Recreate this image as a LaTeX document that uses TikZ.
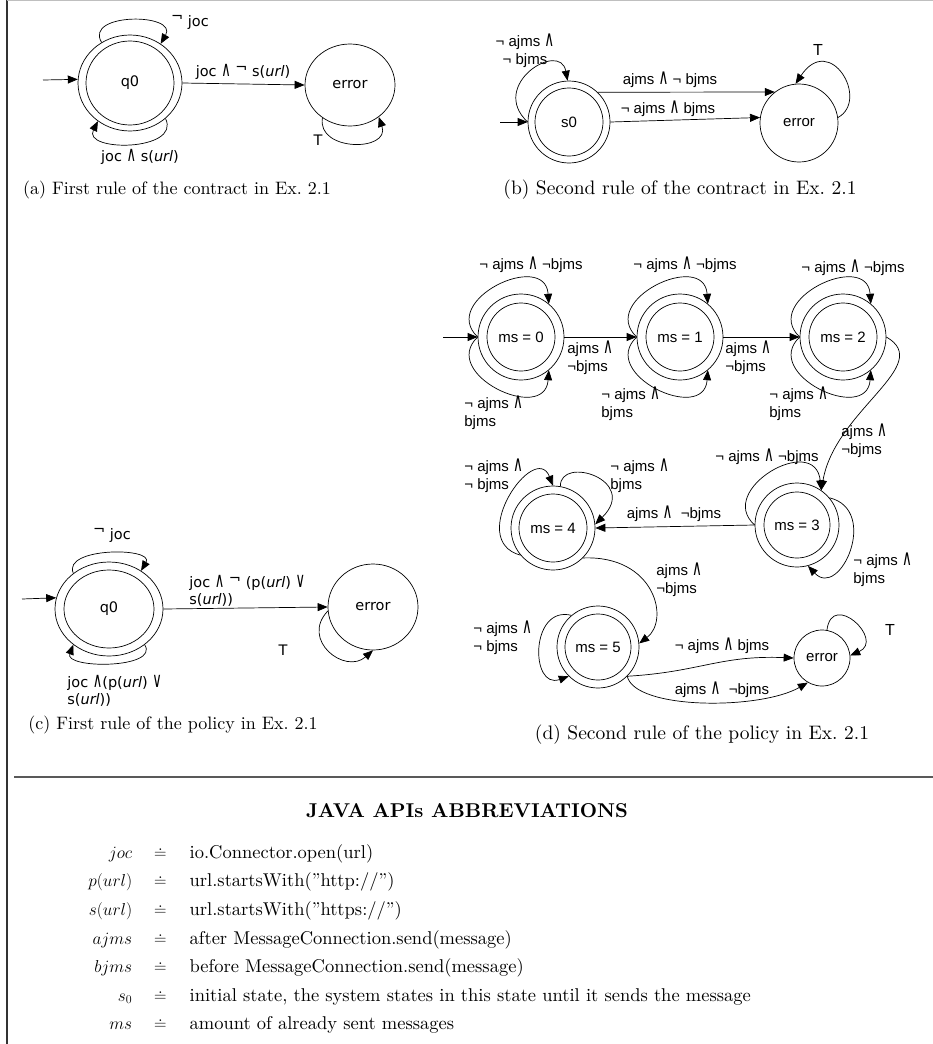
\documentclass[tikz,border=0pt]{standalone}
\usepackage{fontspec}
\usetikzlibrary{arrows.meta,shapes.geometric}
\setmainfont{lmroman10-regular.otf}[BoldFont=lmroman10-bold.otf, ItalicFont=lmroman10-italic.otf]
\newfontfamily\vera{DejaVu Sans}
\newfontfamily\arial{Liberation Sans}
\newcommand{\lnd}{\scalebox{0.9}[1.45]{\vera ∧}}
\newcommand{\lorr}{\scalebox{0.9}[1.45]{\vera ∨}}
\newcommand{\nt}{\raisebox{0.3em}{¬}}
\begin{document}
\begin{tikzpicture}[x=1pt, y=-1pt, line width=0.7pt,
  st/.style={ellipse, draw, inner sep=0pt},
  stc/.style={circle, draw, inner sep=0pt, minimum size=#1},
  arr/.style={-{Triangle[length=10pt,width=8pt]}},
  la/.style={font=\vera\fontsize{14.5}{17}\selectfont, align=left, inner sep=1pt},
  lb/.style={font=\arial\fontsize{15}{17.5}\selectfont, align=left, inner sep=1pt},
  captxt/.style={font=\fontsize{#1}{22}\selectfont},
  captxt/.default=18]
\useasboundingbox (0,0) rectangle (933,1044);
% frame
\draw[line width=2pt, black!80] (7,0) -- (7,1044);
\draw[line width=1pt, black!25] (7,0.5) -- (933,0.5);
\draw[line width=2pt, black!65] (14,777) -- (933,777);
% (a)
\node[st, minimum width=104pt, minimum height=96pt, la] (q0a) at (130,83) {q0};
\draw (q0a.center) ellipse (44pt and 42pt);
\node[st, minimum width=90pt, minimum height=82pt, la] (erra) at (350,85) {error};
\coordinate (ia) at (43,80);
\draw[arr] (ia) -- (q0a.176);
\draw[arr] (q0a.east) -- (erra.west);
\draw[arr] (q0a.125) .. controls +(-18,-30) and +(18,-31) .. (q0a.52);
\draw[arr] (q0a.-45) .. controls +(16,33) and +(-16,31) .. (q0a.-130);
\draw[arr] (erra.-130) .. controls +(-6,34) and +(12,35) .. (erra.-48);
\node[la] (ta1) at (243,72) {joc \lnd\ \nt\ s(\textit{url})};
\node[la] (ta2) at (190,22) {\nt\ joc};
\node[la] (ta3) at (140,157) {joc \lnd\ s(\textit{url})};
\node[la] (ta4) at (318,140) {T};
\node[captxt] (capa) at (177,190) {(a) First rule of the contract in Ex.~2.1};
% (b)
\node[stc=82pt, lb] (s0) at (569,122) {s0};
\draw (s0.center) circle (34pt);
\node[stc=78pt, lb] (errb) at (799,123) {error};
\coordinate (ib) at (500,122);
\draw[arr] (ib) -- (s0.west);
\draw[arr] (s0.46) -- (errb.128);
\draw[arr] (s0.east) -- (errb.172);
\draw[arr] (s0.west) .. controls (488,85) and (560,40) .. (s0.92);
\draw[arr] (errb.8) .. controls (870,100) and (830,32) .. (errb.95);
\node[lb] (tb1) at (670,80) {ajms \lnd\ ¬ bjms};
\node[lb] (tb2) at (668,109) {¬ ajms \lnd\ bjms};
\node[lb, align=center] (tb3) at (525,51) {¬ ajms \lnd\\ ¬ bjms};
\node[lb, font=\arial\fontsize{16}{18}\selectfont] (tb4) at (818,50) {T};
\node[captxt=19.5] (capb) at (680,190) {(b) Second rule of the contract in Ex.~2.1};
% (c)
\node[st, minimum width=108pt, minimum height=94pt, la] (q0c) at (109,609) {q0};
\draw (q0c.center) ellipse (45pt and 39pt);
\node[st, minimum width=90pt, minimum height=86pt, la] (errc) at (373,607) {error};
\coordinate (ic) at (22,599);
\draw[arr] (ic) -- (q0c.168);
\draw[arr] (q0c.east) -- (errc.west);
\draw[arr] (q0c.135) .. controls (62,547) and (155,547) .. (q0c.50);
\draw[arr] (q0c.-45) .. controls (160,669) and (64,669) .. (q0c.-135);
\draw[arr] (errc.185) .. controls (300,640) and (345,675) .. (errc.-90);
\node[la, anchor=west] (tc1) at (188,591) {joc \lnd\ \nt\ (p(\textit{url}) \lorr\\s(\textit{url}))};
\node[la] (tc2) at (112,535) {\nt\ joc};
\node[la, anchor=west] (tc3) at (66,691) {joc \lnd(p(\textit{url}) \lorr\\s(\textit{url}))};
\node[la] (tc4) at (283,650) {T};
\node[captxt] (capc) at (173,725) {(c) First rule of the policy in Ex.~2.1};
% (d)
\node[stc=86pt, lb] (m0) at (521,337) {ms = 0};
\node[stc=86pt, lb] (m1) at (680,337) {ms = 1};
\node[stc=86pt, lb] (m2) at (843,337) {ms = 2};
\node[stc=84pt, lb] (m3) at (797,525) {ms = 3};
\node[stc=84pt, lb] (m4) at (553,528) {ms = 4};
\node[stc=82pt, lb] (m5) at (598,647) {ms = 5};
\draw (m0.center) circle (34pt);
\draw (m1.center) circle (34pt);
\draw (m2.center) circle (34pt);
\draw (m3.center) circle (33pt);
\draw (m4.center) circle (34pt);
\draw (m5.center) circle (33pt);
\node[stc=56pt, lb] (errd) at (822,658) {error};
\coordinate (id) at (443,337);
\draw[arr] (id) -- (m0.west);
\draw[arr] (m0.east) -- (m1.west);
\draw[arr] (m1.east) -- (m2.west);
\draw[arr] (m0.west) .. controls +(-39,-37) and +(-4,-54) .. (m0.50);
\draw[arr] (m0.west) .. controls +(-39,37) and +(-4,54) .. (m0.-50);
\draw[arr] (m1.west) .. controls +(-39,-37) and +(-4,-54) .. (m1.50);
\draw[arr] (m1.west) .. controls +(-39,37) and +(-4,54) .. (m1.-50);
\draw[arr] (m2.west) .. controls +(-39,-37) and +(-4,-54) .. (m2.50);
\draw[arr] (m2.west) .. controls +(-39,37) and +(-4,54) .. (m2.-50);
\draw[arr] (m2.east) .. controls (935,365) and (835,410) .. (m3.55);
\draw[arr] (m3.west) .. controls (715,490) and (815,432) .. (m3.55);
\draw[arr] (m3.40) .. controls (880,510) and (840,600) .. (m3.-75);
\draw[arr] (m3.west) -- (m4.east);
\draw[arr] (m4.220) .. controls (465,540) and (535,440) .. (m4.north);
\draw[arr] (m4.80) .. controls (560,455) and (640,480) .. (m4.5);
\draw[arr] (m4.-45) .. controls (655,555) and (670,620) .. (m5.5);
\draw[arr] (m5.130) .. controls (530,605) and (530,690) .. (m5.225);
\draw[arr] (m5.-45) .. controls (700,672) and (720,655) .. (errd.west);
\draw[arr] (m5.-45) .. controls (635,710) and (760,710) .. (errd.-120);
\draw[arr] (errd.80) .. controls (832,590) and (885,640) .. (errd.5);
\node[lb] (td1) at (531,265) {¬ ajms \lnd\ ¬bjms};
\node[lb] (td2) at (685,265) {¬ ajms \lnd\ ¬bjms};
\node[lb] (td3) at (853,268) {¬ ajms \lnd\ ¬bjms};
\node[lb, anchor=west] (td4) at (463,413) {¬ ajms \lnd\\bjms};
\node[lb, anchor=west] (td5) at (600,404) {¬ ajms \lnd\\bjms};
\node[lb, anchor=west] (td6) at (768,404) {¬ ajms \lnd\\bjms};
\node[lb, anchor=west] (td7) at (566,358) {ajms \lnd\\¬bjms};
\node[lb, anchor=west] (td8) at (724,358) {ajms \lnd\\¬bjms};
\node[lb, anchor=west] (td9) at (840,441) {ajms \lnd\\¬bjms};
\node[lb] (td10) at (767,457) {¬ ajms \lnd\ ¬bjms};
\node[lb, anchor=west] (td11) at (852,570) {¬ ajms \lnd\\bjms};
\node[lb] (td12) at (674,514) {ajms \lnd\ \ ¬bjms};
\node[lb, anchor=west] (td13) at (463,476) {¬ ajms \lnd\\¬ bjms};
\node[lb, anchor=west] (td14) at (609,476) {¬ ajms \lnd\\bjms};
\node[lb, anchor=west] (td15) at (655,580) {ajms \lnd\\¬bjms};
\node[lb, anchor=west] (td16) at (472,638) {¬ ajms \lnd\\¬ bjms};
\node[lb] (td17) at (722,646) {¬ ajms \lnd\ bjms};
\node[lb] (td18) at (722,690) {ajms \lnd\ \ ¬bjms};
\node[lb, font=\arial\fontsize{16}{18}\selectfont] (td19) at (890,630) {T};
\node[captxt=19.5] (capd) at (702,735) {(d) Second rule of the policy in Ex.~2.1};
% abbreviations
\node[font=\fontsize{20}{24}\selectfont\bfseries] (ttl) at (467,811) {JAVA APIs ABBREVIATIONS};
\node[anchor=north west, inner sep=0pt, font=\fontsize{18.5}{22}\selectfont] (abbr) at (88,838)
  {\renewcommand{\arraystretch}{1.3}%
   \begin{tabular}{@{}r@{\hspace{22pt}}c@{\hspace{23pt}}l@{}}
   $joc$ & $\doteq$ & io.Connector.open(url)\\
   $p(url)$ & $\doteq$ & url.startsWith(''http://'')\\
   $s(url)$ & $\doteq$ & url.startsWith(''https://'')\\
   $ajms$ & $\doteq$ & after MessageConnection.send(message)\\
   $bjms$ & $\doteq$ & before MessageConnection.send(message)\\
   $s_0$ & $\doteq$ & initial state, the system states in this state until it sends the message\\
   $ms$ & $\doteq$ & amount of already sent messages
   \end{tabular}};
\end{tikzpicture}
\end{document}
